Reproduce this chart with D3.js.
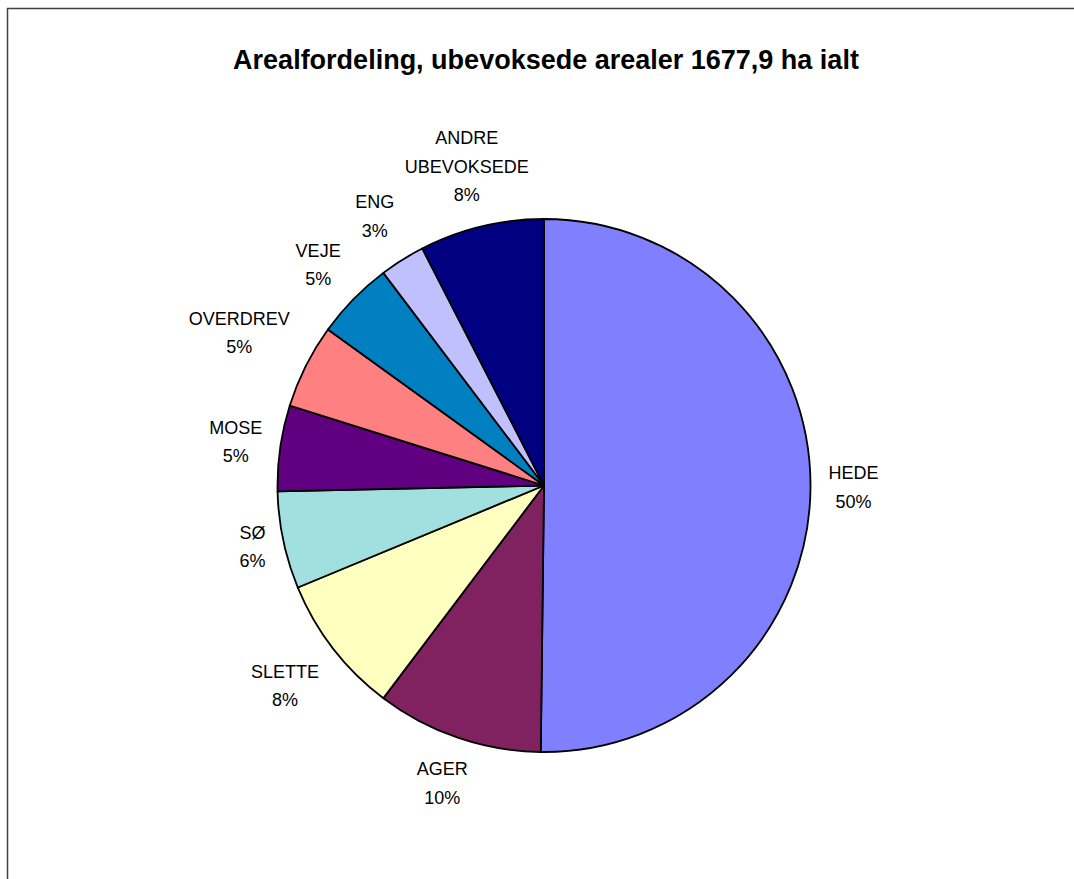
<!DOCTYPE html>
<html>
<head>
<meta charset="utf-8">
<script src="https://cdn.jsdelivr.net/npm/d3@7"></script>
<style>
  body { margin: 0; background: #fff; }
  svg { display: block; }
  text { font-family: "Liberation Sans", Arial, sans-serif; fill: #000; }
</style>
</head>
<body>
<div id="chart"></div>
<script>
// data (ha, total 1677,9)
const categories = ["HEDE", "AGER", "SLETTE", "SØ", "MOSE", "OVERDREV", "VEJE", "ENG", "ANDRE UBEVOKSEDE"];
const areas = [842.2, 169.5, 141.8, 99.0, 87.3, 85.6, 79.7, 46.1, 126.7];
const colors = ["#8080ff", "#812260", "#ffffc0", "#a2e0e0", "#600080", "#ff8080", "#0080c0", "#c0c0ff", "#000080"];
const labelLines = [["HEDE"], ["AGER"], ["SLETTE"], ["SØ"], ["MOSE"], ["OVERDREV"], ["VEJE"], ["ENG"], ["ANDRE", "UBEVOKSEDE"]];
const title = "Arealfordeling, ubevoksede arealer 1677,9 ha ialt";

const w = 1074;
const h = 879;
const cx = 544;
const cy = 485.5;
const radius = 266.5;
const fontSize = 18;
const lineH = 28.5;
const gap = 18;

const data = categories.map((c, i) => ({ name: c, value: areas[i], lines: labelLines[i] }));
const total = d3.sum(areas);

const svg = d3.select("#chart")
  .append("svg")
  .attr("width", w)
  .attr("height", h);

// chart frame
svg.append("rect")
  .attr("x", 7.5)
  .attr("y", 8.5)
  .attr("width", 1100)
  .attr("height", 900)
  .attr("fill", "none")
  .attr("stroke", "#404040")
  .attr("stroke-width", 1.5);

svg.append("text")
  .attr("x", 546)
  .attr("y", 69)
  .attr("text-anchor", "middle")
  .attr("font-weight", "bold")
  .attr("font-size", 27)
  .text(title);

const pie = d3.pie()
  .sort(null)
  .value(d => d.value);

const arc = d3.arc()
  .innerRadius(0)
  .outerRadius(radius);

const arcs = pie(data);

const g = svg.append("g")
  .attr("transform", `translate(${cx},${cy})`);

g.selectAll("path")
  .data(arcs)
  .enter()
  .append("path")
  .attr("d", arc)
  .attr("fill", (d, i) => colors[i])
  .attr("stroke", "#000")
  .attr("stroke-width", 1.8)
  .attr("stroke-linejoin", "round");

// labels: centre on the mid-angle ray, box edge kept a gap away from the pie
const fmt = d3.format(".0%");
g.selectAll("g.label")
  .data(arcs)
  .enter()
  .append("g")
  .attr("class", "label")
  .each(function (d) {
    const lines = d.data.lines.concat([fmt(d.data.value / total)]);
    const a = (d.startAngle + d.endAngle) / 2;
    const dx = Math.sin(a);
    const dy = -Math.cos(a);
    const sel = d3.select(this);
    const t = sel.append("text")
      .attr("text-anchor", "middle")
      .attr("font-size", fontSize);
    lines.forEach((l, k) => {
      t.append("tspan")
        .attr("x", 0)
        .attr("y", (k - (lines.length - 1) / 2) * lineH + fontSize * 0.35)
        .text(l);
    });
    const hw = t.node().getBBox().width / 2;
    const hh = lines.length * lineH / 2;
    const ext = Math.min(
      Math.abs(dx) > 1e-6 ? hw / Math.abs(dx) : Infinity,
      Math.abs(dy) > 1e-6 ? hh / Math.abs(dy) : Infinity
    );
    const dist = radius + gap + ext;
    sel.attr("transform", `translate(${dx * dist},${dy * dist})`);
  });
</script>
</body>
</html>
